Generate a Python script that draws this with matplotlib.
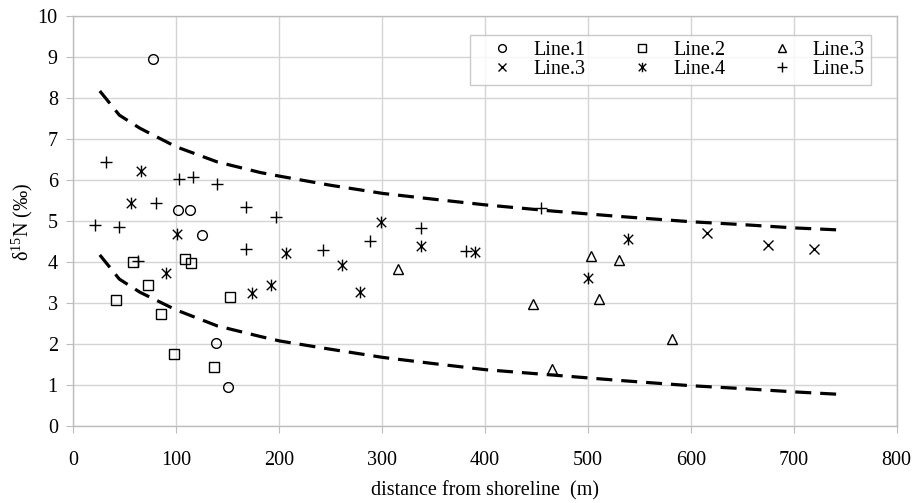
import matplotlib
matplotlib.use("Agg")
import matplotlib.pyplot as plt
from matplotlib.path import Path

plt.rcParams["font.family"] = ["Liberation Serif", "DejaVu Serif"]
plt.rcParams["mathtext.fontset"] = "custom"
plt.rcParams["mathtext.rm"] = "Liberation Serif"

# ---------------------------------------------------------------------------
# Data
# ---------------------------------------------------------------------------

line1_x = [78, 102, 114, 125, 139, 151]
line1_y = [8.95, 5.28, 5.28, 4.67, 2.02, 0.95]

line2_x = [42, 58, 73, 85, 98, 109, 115, 137, 152]
line2_y = [3.08, 4.01, 3.45, 2.73, 1.76, 4.08, 3.99, 1.45, 3.16]

line3t_x = [316, 447, 465, 503, 511, 530, 582]
line3t_y = [3.84, 2.98, 1.40, 4.15, 3.10, 4.06, 2.13]

line3x_x = [616, 675, 720]
line3x_y = [4.71, 4.42, 4.32]

line4_x = [56, 66, 90, 101, 174, 192, 207, 261, 279, 299, 338, 390, 500, 539]
line4_y = [5.45, 6.23, 3.73, 4.69, 3.26, 3.45, 4.22, 3.93, 3.28, 4.99, 4.41, 4.25, 3.62, 4.57]

line5_x = [21, 32, 45, 63, 81, 103, 117, 140, 168, 168, 197, 243, 288, 338, 382, 455]
line5_y = [4.90, 6.44, 4.87, 4.02, 5.44, 6.04, 6.09, 5.91, 5.36, 4.32, 5.10, 4.30, 4.53, 4.83, 4.28, 5.33]

curve_x = [26, 45, 65, 100, 140, 182, 201, 250, 301, 350, 401, 466, 530, 600, 650, 700, 744]
upper_y = [8.18, 7.59, 7.27, 6.82, 6.45, 6.19, 6.10, 5.88, 5.68, 5.54, 5.40, 5.25, 5.12, 4.99, 4.92, 4.84, 4.79]
lower_y = [4.18, 3.59, 3.27, 2.84, 2.45, 2.19, 2.08, 1.88, 1.68, 1.53, 1.38, 1.25, 1.12, 0.99, 0.92, 0.84, 0.78]

# asterisk marker: an x with a vertical bar
star = Path([(-1, -1), (1, 1), (-1, 1), (1, -1), (0, -1.25), (0, 1.25)],
            [Path.MOVETO, Path.LINETO, Path.MOVETO, Path.LINETO, Path.MOVETO, Path.LINETO])

fig = plt.figure(figsize=(9.14, 5.03), dpi=100)
ax = fig.add_axes([0.0799, 0.1525, 0.9011, 0.815])

grid_c = "#d4d4d4"
fs = 14.5
mk = dict(linestyle="none", color="black", markerfacecolor="none",
          markeredgecolor="black", markeredgewidth=1.0)

ax.plot(curve_x, upper_y, color="black", lw=2.3, dashes=(5, 2.8), zorder=2)
ax.plot(curve_x, lower_y, color="black", lw=2.3, dashes=(5, 2.8), zorder=2)

h1, = ax.plot(line1_x, line1_y, marker="o", markersize=7, label="Line.1", **mk)
h2, = ax.plot(line2_x, line2_y, marker="s", markersize=7, label="Line.2", **mk)
h3, = ax.plot(line3t_x, line3t_y, marker="^", markersize=7, label="Line.3", **mk)
h4, = ax.plot(line3x_x, line3x_y, marker="x", markersize=7.5, label="Line.3", **mk)
h5, = ax.plot(line4_x, line4_y, marker=star, markersize=8.5, label="Line.4", **mk)
h6, = ax.plot(line5_x, line5_y, marker="+", markersize=8.5, label="Line.5", **mk)

ax.set_xlim(0, 800)
ax.set_ylim(0, 10)
ax.set_xticks(range(0, 801, 100))
ax.set_yticks(range(0, 11))
ax.grid(color=grid_c, lw=1.0)
ax.set_axisbelow(True)
for s in ax.spines.values():
    s.set_color("#bdbdbd")
    s.set_linewidth(1.0)
ax.tick_params(direction="out", length=5, color="#bdbdbd", labelsize=fs)
ax.tick_params(axis="x", pad=13)
ax.tick_params(axis="y", pad=6)

ax.set_xlabel("distance from shoreline  (m)", fontsize=fs, labelpad=8)
ax.set_ylabel("δ$^{15}$N (‰)", fontsize=fs, labelpad=2)

leg = ax.legend([h1, h4, h2, h5, h3, h6],
                ["Line.1", "Line.3", "Line.2", "Line.4", "Line.3", "Line.5"],
                ncol=3, loc="upper left", bbox_to_anchor=(0.482, 0.954),
                borderaxespad=0, fontsize=fs, frameon=True, fancybox=False,
                borderpad=0.3, labelspacing=0.0, columnspacing=1.5,
                handletextpad=0.25, handlelength=2.6, markerscale=0.8)
leg.get_frame().set_edgecolor("#bdbdbd")
leg.get_frame().set_linewidth(1.0)

fig.savefig("out.png", dpi=100)
